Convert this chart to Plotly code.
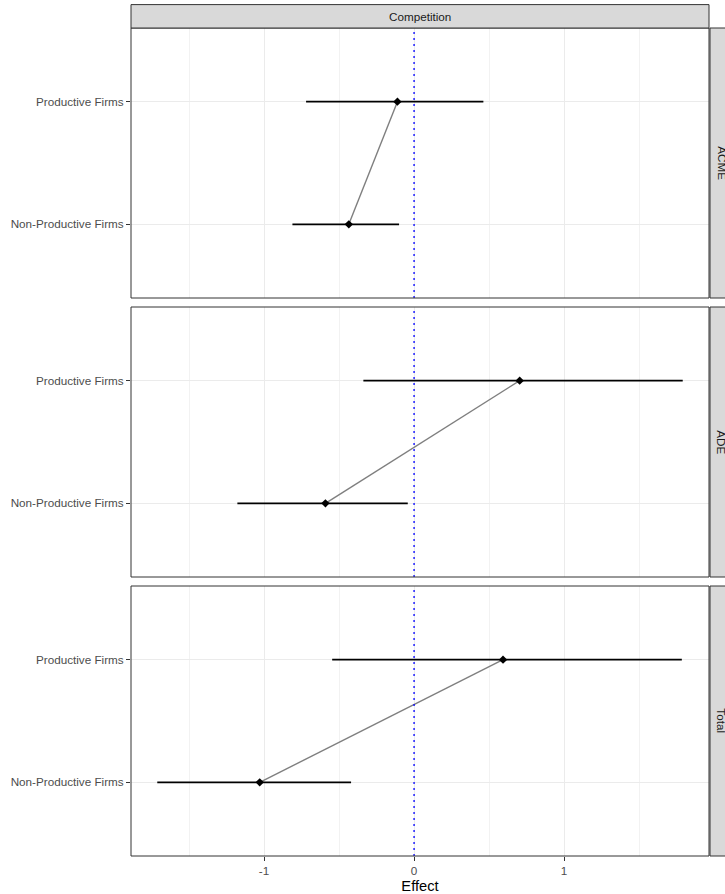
import plotly.graph_objects as go

# Mediation estimates for the "Competition" treatment, by firm type
firm_types = ["Non-Productive Firms", "Productive Firms"]
effects = ["ACME", "ADE", "Total"]

acme_est = [-0.435, -0.111]
acme_lo = [-0.811, -0.720]
acme_hi = [-0.100, 0.462]

ade_est = [-0.591, 0.704]
ade_lo = [-1.178, -0.338]
ade_hi = [-0.042, 1.791]

total_est = [-1.029, 0.593]
total_lo = [-1.712, -0.546]
total_hi = [-0.420, 1.785]

x_ticks = [-1, 0, 1]
x_minor = [-1.5, -0.5, 0.5, 1.5]

panels = [
    (acme_est, acme_lo, acme_hi),
    (ade_est, ade_lo, ade_hi),
    (total_est, total_lo, total_hi),
]

W, H = 725, 894
FONT = "Liberation Sans, Arial, Helvetica, sans-serif"


def px_x(v):
    return v / W


def px_y(v):
    return 1 - v / H


# panel pixel boxes (left, right, top, bottom)
LEFT, RIGHT = 131, 709
boxes = [(28, 298), (307, 577), (586, 856)]
STRIP_W = 23.4

# x scale with 5% expansion of the data range
all_lo = min(min(p[1]) for p in panels)
all_hi = max(max(p[2]) for p in panels)
span = all_hi - all_lo
x_range = [all_lo - 0.05 * span, all_hi + 0.05 * span]

fig = go.Figure()
shapes = []
annotations = []

for i, (est, lo, hi) in enumerate(panels):
    n = "" if i == 0 else str(i + 1)
    xa, ya = "x" + n, "y" + n
    top, bot = boxes[i]

    # connecting line between firm types
    fig.add_trace(go.Scatter(
        x=est, y=firm_types, mode="lines",
        line=dict(color="#7F7F7F", width=1.4),
        xaxis=xa, yaxis=ya, showlegend=False, hoverinfo="skip",
    ))
    # point estimates with confidence intervals
    fig.add_trace(go.Scatter(
        x=est, y=firm_types, mode="markers",
        marker=dict(symbol="diamond", size=6.5, color="black"),
        error_x=dict(
            type="data", symmetric=False,
            array=[h - e for h, e in zip(hi, est)],
            arrayminus=[e - l for e, l in zip(est, lo)],
            color="black", thickness=1.6, width=0,
        ),
        xaxis=xa, yaxis=ya, showlegend=False,
    ))

    is_bottom = i == len(panels) - 1
    fig.layout["xaxis" + n] = dict(
        domain=[px_x(LEFT), px_x(RIGHT)],
        anchor=ya, range=x_range,
        tickvals=x_ticks, ticktext=[str(t) for t in x_ticks],
        showticklabels=is_bottom,
        ticks="outside" if is_bottom else "", ticklen=4, tickwidth=1,
        tickcolor="#333333",
        showgrid=True, gridcolor="#EBEBEB", gridwidth=1,
        minor=dict(tickvals=x_minor, showgrid=True,
                   gridcolor="#F2F2F2", gridwidth=1, ticks=""),
        zeroline=False, showline=False,
        tickfont=dict(family=FONT, size=11.7, color="#4D4D4D"),
        title=dict(text="Effect" if is_bottom else "",
                   font=dict(family=FONT, size=14.7, color="black"),
                   standoff=4),
        **({} if i == 0 else {"matches": "x"}),
    )
    fig.layout["yaxis" + n] = dict(
        domain=[px_y(bot), px_y(top)],
        anchor=xa, type="category",
        categoryorder="array", categoryarray=firm_types,
        range=[-0.6, 1.6],
        ticks="outside", ticklen=4, tickwidth=1, tickcolor="#333333",
        showgrid=True, gridcolor="#EBEBEB", gridwidth=1,
        zeroline=False, showline=False,
        tickfont=dict(family=FONT, size=11.7, color="#4D4D4D"),
    )

    # reference line at zero
    shapes.append(dict(
        type="line", xref=xa, yref=ya + " domain",
        x0=0, x1=0, y0=0, y1=1,
        line=dict(color="blue", width=1.3, dash="2px,4px"),
    ))
    # panel border
    shapes.append(dict(
        type="rect", xref="paper", yref="paper",
        x0=px_x(LEFT), x1=px_x(RIGHT), y0=px_y(bot), y1=px_y(top),
        line=dict(color="#333333", width=1), fillcolor="rgba(0,0,0,0)",
        layer="above",
    ))
    # row strip on the right
    shapes.append(dict(
        type="rect", xref="paper", yref="paper",
        x0=px_x(RIGHT + 1), x1=px_x(RIGHT + 1 + STRIP_W),
        y0=px_y(bot), y1=px_y(top),
        line=dict(color="#333333", width=1), fillcolor="#D9D9D9",
        layer="above",
    ))
    annotations.append(dict(
        text=effects[i], xref="paper", yref="paper",
        x=px_x(RIGHT + 1 + STRIP_W / 2), y=px_y((top + bot) / 2),
        xanchor="center", yanchor="middle", textangle=90, showarrow=False,
        font=dict(family=FONT, size=11.7, color="#1A1A1A"),
    ))

# column strip on top
STRIP_TOP = 28 - STRIP_W
shapes.append(dict(
    type="rect", xref="paper", yref="paper",
    x0=px_x(LEFT), x1=px_x(RIGHT), y0=px_y(28), y1=px_y(STRIP_TOP),
    line=dict(color="#333333", width=1), fillcolor="#D9D9D9",
    layer="above",
))
annotations.append(dict(
    text="Competition", xref="paper", yref="paper",
    x=px_x((LEFT + RIGHT) / 2), y=px_y((28 + STRIP_TOP) / 2),
    xanchor="center", yanchor="middle", showarrow=False,
    font=dict(family=FONT, size=11.7, color="#1A1A1A"),
))

fig.update_layout(
    width=W, height=H,
    margin=dict(l=0, r=0, t=0, b=0),
    paper_bgcolor="white", plot_bgcolor="white",
    shapes=shapes, annotations=annotations,
    showlegend=False,
    font=dict(family=FONT),
)

fig.write_html("out.html")
